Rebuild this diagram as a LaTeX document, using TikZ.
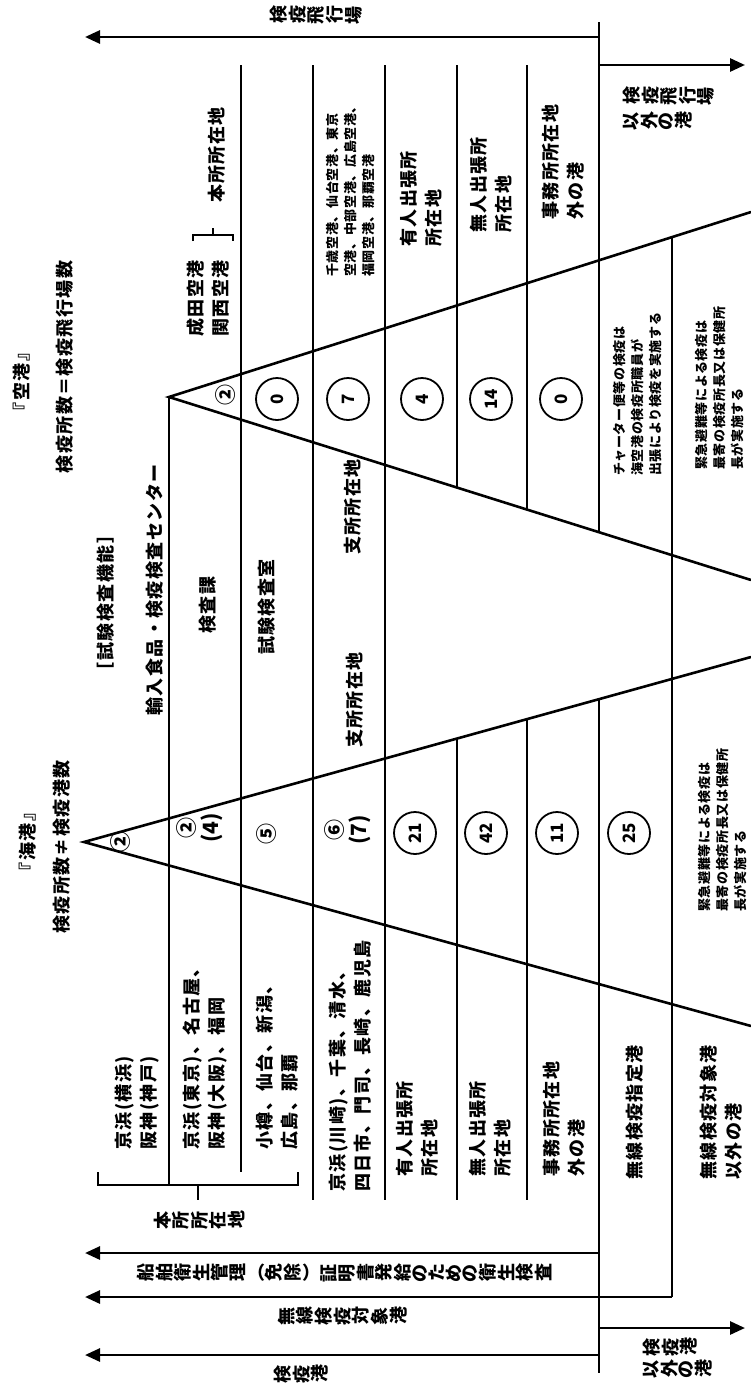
\documentclass[tikz,border=0pt]{standalone}
\usepackage{fontspec}
\usepackage{graphicx}
\usetikzlibrary{arrows.meta,shapes.geometric}
\newfontfamily\jp{Noto Sans CJK JP}[LetterSpace=8]
\newfontfamily\jps{Noto Sans CJK JP}[LetterSpace=5]
\newfontfamily\jpt{Noto Sans CJK JP}
\ExplSyntaxOn
\NewDocumentCommand\tate{m}{\tl_map_inline:nn{#1}{\rotatebox[origin=c]{90}{##1}\kern1.5pt}}
\ExplSyntaxOff
\tikzset{
  ln/.style={line width=1.8pt},
  tri/.style={line width=2.6pt},
  arr/.style={line width=2.8pt,-{Triangle[length=15pt,width=13pt]}},
  lab/.style={rotate=90,inner sep=0pt,font=\jp\bfseries\fontsize{18}{25}\selectfont,align=left},
  sml/.style={rotate=90,inner sep=0pt,font=\jps\bfseries\fontsize{13}{18}\selectfont,align=left},
  tt/.style={inner sep=0pt,font=\jpt\bfseries\fontsize{18}{22}\selectfont},
  num/.style={circle,draw,line width=1.8pt,minimum size=42pt,inner sep=0pt,rotate=90,font=\jpt\bfseries\fontsize{17}{20}\selectfont},
  cn/.style={rotate=90,inner sep=0pt,font=\jpt\bfseries\fontsize{21}{24}\selectfont,align=center}
}
\begin{document}
\begin{tikzpicture}[x=1pt,y=-1pt]
\useasboundingbox (0,0) rectangle (751,1384);
% triangle apexes and ends
\coordinate (Aap) at (169,397);
\coordinate (Aup) at (751,212);
\coordinate (Alo) at (751,580);
\coordinate (Sap) at (84,842);
\coordinate (Sup) at (751,657);
\coordinate (Slo) at (751,1026);
% ---------- top arrows ----------
\coordinate (T0) at (599,22);
\coordinate (T1) at (599,37);
\coordinate (T1e) at (85,37);
\coordinate (T2) at (599,65);
\coordinate (T2e) at (745,65);
\draw[arr] (T1) -- (T1e);
\draw[arr] (T2) -- (T2e);
\node[tt] (lAir) at (317,15) {\tate{検疫飛行場}};
\node[tt,anchor=west] (lAirO1) at (623,96) {\tate{検疫飛行場}};
\node[tt,anchor=west] (lAirO2) at (623,121) {\tate{以外の港}};
% ---------- vertical lines ----------
\draw[ln] (T0) -- (599,532);
\draw[ln] (241,65) -- (241,1172);
\draw[ln] (313,65) -- (313,1200);
\draw[ln] (385,65) -- (385,1200);
\draw[ln] (457,65) -- (457,487);
\draw[ln] (527,65) -- (527,509);
\draw[ln] (672,237) -- (672,1297);
\draw[ln] (Aap) -- (169,1185);
\draw[ln] (457,738) -- (457,1200);
\draw[ln] (527,719) -- (527,1200);
\draw[ln] (599,699) -- (599,1373);
% ---------- triangles ----------
\draw[tri] (Aup) -- (Aap) -- (Alo);
\draw[tri] (Sup) -- (Sap) -- (Slo);
% ---------- airport brace ----------
\draw[ln] (193,241) -- (193,235) -- (233,235) -- (233,241);
\draw[ln] (213,235) -- (213,228);
% ---------- titles ----------
\node[lab] (tAir) at (22,382) {『空港』};
\node[lab] (tAirN) at (65,367) {検疫所数＝検疫飛行場数};
\node[lab] (tSea) at (28,842) {『海港』};
\node[lab] (tSeaN) at (62,847) {検疫所数≠検疫港数};
\node[lab] (tLab) at (106,603) {［試験検査機能］};
\node[lab] (tCenter) at (155,590) {輸入食品・検疫検査センター};
\node[lab] (tKensa) at (208,605) {検査課};
\node[lab] (tShiken) at (267,607) {試験検査室};
\node[lab] (tShiA) at (353,507) {支所所在地};
\node[lab] (tShiS) at (355,700) {支所所在地};
% ---------- airport rows ----------
\node[lab] (aHon) at (217,155) {本所所在地};
\node[lab,anchor=west] (aNarita) at (208,337) {成田空港\\関西空港};
\node[sml,anchor=west] (aList) at (350,277) {千歳空港、仙台空港、東京\\空港、中部空港、広島空港、\\福岡空港、那覇空港};
\node[lab,anchor=west] (aYu) at (421,247) {有人出張所\\所在地};
\node[lab,anchor=west] (aMu) at (491,233) {無人出張所\\所在地};
\node[lab,anchor=west] (aJi) at (563,220) {事務所所在地\\外の港};
\node[sml,anchor=west] (aCharter) at (638,476) {チャーター便等の検疫は\\海空港の検疫所職員が\\出張により検疫を実施する};
\node[sml,anchor=west] (aKinkyu) at (720,470) {緊急避難等による検疫は\\最寄の検疫所長又は保健所\\長が実施する};
\node[cn] (aN1) at (226,395) {②};
\node[num] (aN2) at (277,399) {0};
\node[num] (aN3) at (348,399) {7};
\node[num] (aN4) at (422,399) {4};
\node[num] (aN5) at (491,399) {14};
\node[num] (aN6) at (561,399) {0};
% ---------- sea rows ----------
\node[cn] (sN1) at (121,842) {②};
\node[cn] (sN2) at (200,828) {②\\(4)};
\node[cn] (sN3) at (267,834) {⑤};
\node[cn] (sN4) at (348,830) {⑥\\(7)};
\node[num] (sN5) at (415,833) {21};
\node[num] (sN6) at (486,833) {42};
\node[num] (sN7) at (557,833) {11};
\node[num] (sN8) at (629,833) {25};
\node[sml,anchor=west] (sKinkyu) at (723,912) {緊急避難等による検疫は\\最寄の検疫所長又は保健所\\長が実施する};
\node[lab,anchor=west] (sR1) at (137,1150) {京浜(横浜)\\阪神(神戸)};
\node[lab,anchor=west] (sR2) at (205,1150) {京浜(東京)、名古屋、\\阪神(大阪)、福岡};
\node[lab,anchor=west] (sR3) at (277,1150) {小樽、仙台、新潟、\\広島、那覇};
\node[lab,anchor=west] (sR4) at (350,1192) {京浜(川崎)、千葉、清水、\\四日市、門司、長崎、鹿児島};
\node[lab,anchor=west] (sR5) at (417,1177) {有人出張所\\所在地};
\node[lab,anchor=west] (sR6) at (490,1177) {無人出張所\\所在地};
\node[lab,anchor=west] (sR7) at (564,1177) {事務所所在地\\外の港};
\node[lab,anchor=west] (sR8) at (635,1180) {無線検疫指定港};
\node[lab,anchor=west] (sR9) at (721,1180) {無線検疫対象港\\以外の港};
% ---------- sea brace ----------
\draw[ln] (98,1172) -- (98,1185) -- (298,1185) -- (298,1172);
\draw[ln] (198,1185) -- (198,1200);
\node[tt] (sHon) at (200,1220) {\tate{本所所在地}};
% ---------- bottom arrows ----------
\coordinate (B1) at (599,1253);
\coordinate (B1e) at (85,1253);
\coordinate (B2) at (672,1297);
\coordinate (B2e) at (85,1297);
\coordinate (B3) at (599,1355);
\coordinate (B3e) at (85,1355);
\coordinate (B4) at (599,1328);
\coordinate (B4e) at (745,1328);
\draw[arr] (B1) -- (B1e);
\draw[arr] (B2) -- (B2e);
\draw[arr] (B3) -- (B3e);
\draw[arr] (B4) -- (B4e);
\node[tt] (bSen) at (345,1273) {\tate{船舶衛生管理}（\tate{免除}）\tate{証明書発給のための衛生検査}};
\node[tt] (bMu) at (343,1316) {\tate{無線検疫対象港}};
\node[tt] (bKen) at (302,1374) {\tate{検疫港}};
\node[tt,anchor=west] (bO1) at (643,1347) {\tate{検疫港}};
\node[tt,anchor=west] (bO2) at (643,1369) {\tate{以外の港}};
\end{tikzpicture}
\end{document}
